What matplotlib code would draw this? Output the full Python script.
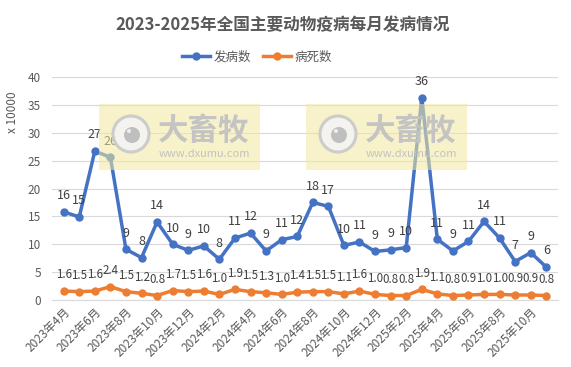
import matplotlib
matplotlib.use("Agg")
import matplotlib.pyplot as plt
from matplotlib.patches import Rectangle, Ellipse
import numpy as np

plt.rcParams['font.family'] = ['Noto Sans CJK SC', 'DejaVu Sans']

COLOR_BLUE = "#4472C4"
COLOR_ORANGE = "#ED7D31"
COLOR_TEXT = "#595959"
COLOR_LABEL = "#404040"
COLOR_GRID = "#D9D9D9"

months = [f"{y}年{m}月" for y, m in
          [(2023, m) for m in range(4, 13)] +
          [(2024, m) for m in range(1, 13)] +
          [(2025, m) for m in range(1, 12)]]

cases = [15.8, 14.9, 26.7, 25.6, 9.1, 7.6, 14.0, 10.0, 8.9, 9.7, 7.3, 11.1,
         12.0, 8.8, 10.8, 11.4, 17.5, 16.8, 9.8, 10.4, 8.7, 9.0, 9.4, 36.3,
         10.9, 8.8, 10.5, 14.1, 11.1, 6.9, 8.5, 5.9]
case_labels = ["16", "15", "27", "26", "9", "8", "14", "10", "9", "10", "8", "11",
               "12", "9", "11", "12", "18", "17", "10", "11", "9", "9", "10", "36",
               "11", "9", "11", "14", "11", "7", "9", "6"]
deaths = [1.6, 1.5, 1.6, 2.4, 1.5, 1.2, 0.8, 1.7, 1.5, 1.6, 1.0, 1.9,
          1.5, 1.3, 1.0, 1.4, 1.5, 1.5, 1.1, 1.6, 1.0, 0.8, 0.8, 1.9,
          1.1, 0.8, 0.9, 1.0, 1.0, 0.9, 0.9, 0.8]

W, H = 571, 367
fig = plt.figure(figsize=(W / 100, H / 100), dpi=100)
ax = fig.add_axes([52 / W, 1 - 300 / H, 506 / W, 223 / H])

x = np.arange(len(months))
ax.plot(x, cases, color=COLOR_BLUE, lw=2.5, marker='o', ms=5, label="发病数", zorder=3)
ax.plot(x, deaths, color=COLOR_ORANGE, lw=2.5, marker='o', ms=5, label="病死数", zorder=3)

for xi, v, t in zip(x, cases, case_labels):
    ax.annotate(t, (xi, v), xytext=(0, 7), textcoords='offset points',
                ha='center', va='bottom', fontsize=9, color=COLOR_LABEL)
for xi, v in zip(x, deaths):
    ax.annotate(f"{v:.1f}", (xi, v), xytext=(0, 7), textcoords='offset points',
                ha='center', va='bottom', fontsize=8.3, color=COLOR_LABEL)

ax.set_ylim(0, 40)
ax.set_yticks(range(0, 41, 5))
ax.set_xlim(-0.75, len(months) - 0.25)
ax.set_xticks(x[::2])
ax.set_xticklabels(months[::2], rotation=45, ha='right', rotation_mode='anchor',
                   fontsize=8.5, color=COLOR_TEXT)
ax.tick_params(axis='y', labelsize=8.5, colors=COLOR_TEXT, length=0, pad=8)
ax.tick_params(axis='x', length=0, pad=4)
ax.grid(axis='y', color=COLOR_GRID, lw=0.8)
ax.set_axisbelow(True)
for s in ['top', 'right', 'left']:
    ax.spines[s].set_visible(False)
ax.spines['bottom'].set_color(COLOR_GRID)

fig.text(13 / W, 1 - 112 / H, "x 10000", rotation=90, ha='center', va='center',
         fontsize=8.5, color=COLOR_TEXT)

fig.suptitle("2023-2025年全国主要动物疫病每月发病情况", x=283 / W, y=1 - 25 / H,
             va='center', fontsize=12, fontweight='bold', color=COLOR_TEXT)
fig.legend(loc='center', bbox_to_anchor=(257 / W, 1 - 57 / H), ncol=2,
           frameon=False, fontsize=9, labelcolor=COLOR_TEXT, handlelength=2.2,
           columnspacing=1.0, handletextpad=0.3)

# watermarks
for x0 in (99, 306):
    y0, w, h = 104, 161, 66
    fig.patches.append(Rectangle((x0 / W, 1 - (y0 + h) / H), w / W, h / H,
                                 transform=fig.transFigure, facecolor="#F2E9A0",
                                 edgecolor='none', alpha=0.55, zorder=10))
    cx, cy, r = x0 + 32, y0 + 30, 18
    fig.patches.append(Ellipse((cx / W, 1 - cy / H), 2 * r / W, 2 * r / H,
                               transform=fig.transFigure, facecolor="#F4F4F4",
                               edgecolor="#C8C8C8", lw=2.2, alpha=0.9, zorder=11))
    fig.patches.append(Ellipse(((cx + 1) / W, 1 - (cy + 1) / H), 16 / W, 16 / H,
                               transform=fig.transFigure, facecolor="#BDBDBD",
                               edgecolor='none', alpha=0.95, zorder=12))
    fig.patches.append(Ellipse(((cx - 2) / W, 1 - (cy - 3) / H), 4 / W, 4 / H,
                               transform=fig.transFigure, facecolor="#EEEEEE",
                               edgecolor='none', zorder=13))
    fig.text((x0 + 105) / W, 1 - (y0 + 27) / H, "大畜牧", ha='center', va='center',
             fontsize=22, fontweight='bold', color="#C2C2C2", alpha=0.95, zorder=12)
    fig.text((x0 + 105) / W, 1 - (y0 + 50) / H, "www.dxumu.com", ha='center',
             va='center', fontsize=8, color="#C2C2C2", zorder=12)

fig.savefig("out.png", dpi=100, facecolor="white")
